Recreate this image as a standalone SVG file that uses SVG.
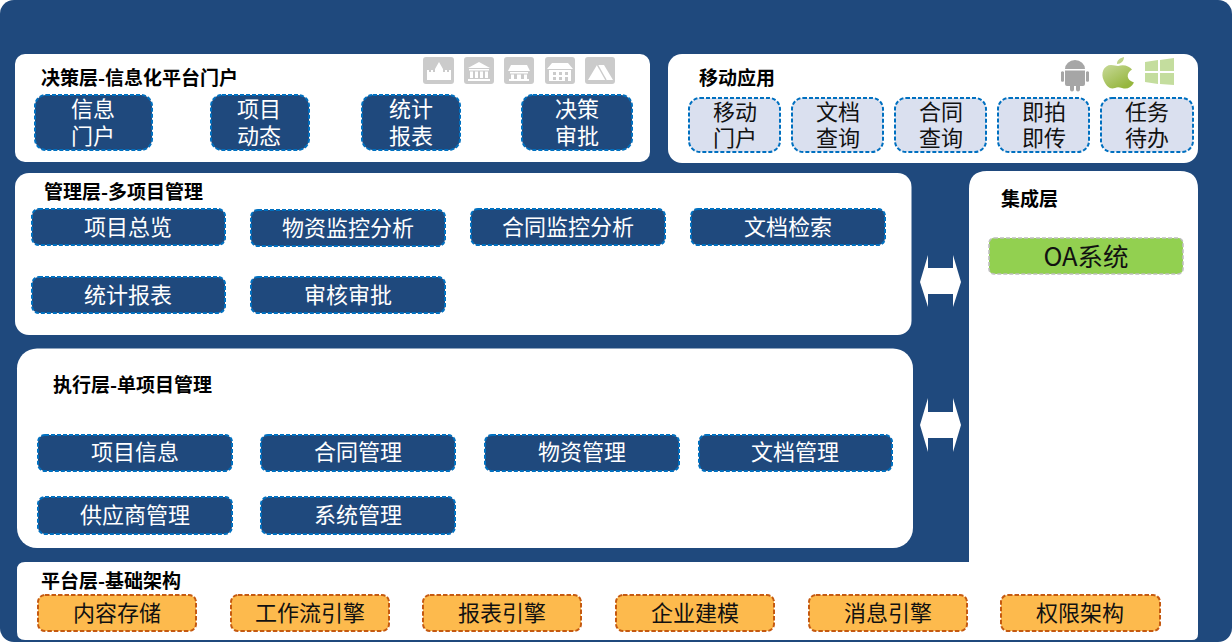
<svg xmlns="http://www.w3.org/2000/svg" width="1232" height="642" viewBox="0 0 1232 642">
<style>
text{font-family:"Noto Sans CJK SC","Noto Sans",sans-serif;text-anchor:middle}
.t{font-size:19px;font-weight:700;fill:#000;text-anchor:start}
.n{font-size:22px;fill:#fff}
.k{font-size:22px;fill:#111}
.oa{font-size:25.500px;fill:#111}
.p{fill:#fff}
.dark{fill:#1f497d;stroke:#0070c0;stroke-width:2;stroke-dasharray:4 2}
.light{fill:#dae0ef;stroke:#0070c0;stroke-width:2;stroke-dasharray:4 2}
.org{fill:#fdba4d;stroke:#c55a11;stroke-width:2;stroke-dasharray:4.500 2}
.grn{fill:#92d050;stroke:#bfbfbf;stroke-width:1.600;stroke-dasharray:4 2}
.ic{fill:#cbcbcb}
.iw{fill:#fff}
</style>
<defs>
<linearGradient id="ap" x1="0" y1="0" x2="0.6" y2="1"><stop offset="0" stop-color="#d3e2ae"/><stop offset="1" stop-color="#96b63e"/></linearGradient>
</defs>
<rect width="1232" height="642" rx="14" fill="#1f497d"/>
<g id="panel-decision"><rect class="p" x="15" y="54" width="635" height="108" rx="10"/><text class="t" x="41" y="84.500">决策层-信息化平台门户</text></g>
<g id="panel-mobile"><rect class="p" x="668" y="54" width="530" height="109" rx="14"/><text class="t" x="699" y="84.500">移动应用</text></g>
<g id="panel-management"><rect class="p" x="15" y="173" width="896.500" height="162" rx="14"/><text class="t" x="44" y="198.500">管理层-多项目管理</text></g>
<g id="panel-execution"><rect class="p" x="17" y="348.500" width="896" height="199.500" rx="20"/><text class="t" x="53" y="392">执行层-单项目管理</text></g>
<g id="panel-integration-platform"><path class="p" d="M25 562H969V189Q969 171 987 171H1180Q1198 171 1198 189V634Q1198 640 1192 640H25Q17 640 17 632V570Q17 562 25 562Z"/><text class="t" x="1001" y="205.500">集成层</text><text class="t" x="41" y="587.500">平台层-基础架构</text></g>

<g id="icons-decision">
<rect class="ic" x="423" y="57" width="31" height="27" rx="3"/><path class="iw" d="M427 80V70H429V72H431V70H433V72H435V69L439 62L443 69V72H445V70H447V72H449V70H451V80Z"/>
<rect class="ic" x="464" y="57" width="30" height="27" rx="3"/><path class="iw" d="M468 68L479 62L490 68ZM469 69H489V70.500H469ZM470 71.500H473V78H470ZM475 71.500H478V78H475ZM480 71.500H483V78H480ZM485 71.500H488V78H485ZM468 79H490V81H468Z"/>
<rect class="ic" x="504" y="57" width="30" height="27" rx="3"/><path class="iw" d="M511 65H527L530 71H508ZM510 72H528V73.500H510ZM511 74.500H514V79H511ZM517 74.500H521V79H517ZM524 74.500H527V79H524ZM509 79H529V81H509Z"/>
<rect class="ic" x="545" y="57" width="30" height="27" rx="3"/><path class="iw" d="M552 63H568L573 69H547ZM549 70H571V81H549Z"/><path class="ic" d="M553 72H556V75H553ZM559 72H562V75H559ZM565 72H568V75H565ZM553 77H556V80H553ZM559 77H562V80H559ZM565 77H568V81H565Z"/>
<rect class="ic" x="585" y="57" width="30" height="27" rx="3"/><path class="iw" d="M597 65H604L613 80H588Z"/><path fill="none" stroke="#cbcbcb" stroke-width="1.500" d="M597.500 65L606 80"/>
</g>
<g id="icons-mobile">
<path fill="#a6a6a6" d="M1065 69A10 9 0 0 1 1085 69ZM1065 70.500H1085V84Q1085 86 1083 86H1080V89.500A2 2 0 0 1 1076 89.500V86H1074V89.500A2 2 0 0 1 1070 89.500V86H1067Q1065 86 1065 84ZM1061 72A2 2 0 0 1 1064 72V81A2 2 0 0 1 1061 81ZM1086 72A2 2 0 0 1 1089 72V81A2 2 0 0 1 1086 81Z"/>
<path fill="url(#ap)" d="M1118 66C1124 64 1129 66 1132 69.500C1126 73 1126 80 1134 82.500C1131 88 1127 89.500 1122 88C1119 87 1117 87 1115 88C1110 89.500 1107 87 1104 81C1100 73 1104 65 1111 65C1114 65 1116 66 1118 66ZM1117 64C1117 60 1120 58 1124 57C1124 61 1121 64 1117 64Z"/>
<path fill="#c4dd9e" d="M1145 62L1158 60V71H1145ZM1160 60L1174 58V71H1160ZM1145 73H1158V84L1145 82ZM1160 73H1174V85L1160 84Z"/>
</g>

<g id="connectors">
<path class="p" d="M920 282L928 255V268H953V255L961 282L953 307V294H928V307Z"/>
<path class="p" d="M920 425L928 398V412H953V398L961 425L953 452V438H928V452Z"/>
</g>

<g id="n1"><rect class="dark" x="35" y="95" width="117" height="55" rx="11"/><text class="n" x="93" y="117">信息</text><text class="n" x="93" y="144">门户</text></g>
<g id="n2"><rect class="dark" x="211" y="95" width="98" height="55" rx="11"/><text class="n" x="259" y="117">项目</text><text class="n" x="259" y="144">动态</text></g>
<g id="n3"><rect class="dark" x="362" y="95" width="98" height="55" rx="11"/><text class="n" x="411" y="117">统计</text><text class="n" x="411" y="144">报表</text></g>
<g id="n4"><rect class="dark" x="522" y="95" width="110" height="55" rx="11"/><text class="n" x="577" y="117">决策</text><text class="n" x="577" y="144">审批</text></g>

<g id="m1"><rect class="light" x="689" y="98" width="91" height="54" rx="11"/><text class="k" x="735" y="120">移动</text><text class="k" x="735" y="146">门户</text></g>
<g id="m2"><rect class="light" x="792" y="98" width="91" height="54" rx="11"/><text class="k" x="838" y="120">文档</text><text class="k" x="838" y="146">查询</text></g>
<g id="m3"><rect class="light" x="895" y="98" width="91" height="54" rx="11"/><text class="k" x="941" y="120">合同</text><text class="k" x="941" y="146">查询</text></g>
<g id="m4"><rect class="light" x="998" y="98" width="91" height="54" rx="11"/><text class="k" x="1044" y="120">即拍</text><text class="k" x="1044" y="146">即传</text></g>
<g id="m5"><rect class="light" x="1101" y="98" width="92" height="54" rx="11"/><text class="k" x="1147" y="120">任务</text><text class="k" x="1147" y="146">待办</text></g>

<g id="g1"><rect class="dark" x="32" y="209" width="193" height="36" rx="7"/><text class="n" x="128" y="235">项目总览</text></g>
<g id="g2"><rect class="dark" x="251" y="210" width="194" height="36" rx="7"/><text class="n" x="348" y="236">物资监控分析</text></g>
<g id="g3"><rect class="dark" x="471" y="209" width="194" height="36" rx="7"/><text class="n" x="568" y="235">合同监控分析</text></g>
<g id="g4"><rect class="dark" x="691" y="209" width="194" height="36" rx="7"/><text class="n" x="788" y="235">文档检索</text></g>
<g id="g5"><rect class="dark" x="32" y="277" width="193" height="36" rx="7"/><text class="n" x="128" y="303">统计报表</text></g>
<g id="g6"><rect class="dark" x="251" y="277" width="194" height="36" rx="7"/><text class="n" x="348" y="303">审核审批</text></g>

<g id="e1"><rect class="dark" x="38" y="435" width="194" height="36" rx="7"/><text class="n" x="135" y="460">项目信息</text></g>
<g id="e2"><rect class="dark" x="261" y="435" width="194" height="36" rx="7"/><text class="n" x="358" y="460">合同管理</text></g>
<g id="e3"><rect class="dark" x="485" y="435" width="194" height="36" rx="7"/><text class="n" x="582" y="460">物资管理</text></g>
<g id="e4"><rect class="dark" x="699" y="435" width="193" height="36" rx="7"/><text class="n" x="795" y="460">文档管理</text></g>
<g id="e5"><rect class="dark" x="38" y="497" width="194" height="37" rx="7"/><text class="n" x="135" y="523">供应商管理</text></g>
<g id="e6"><rect class="dark" x="261" y="497" width="194" height="37" rx="7"/><text class="n" x="358" y="523">系统管理</text></g>

<g id="oa"><rect class="grn" x="989" y="238" width="194" height="36" rx="5"/><text class="oa" x="1086" y="266">OA系统</text></g>

<g id="b1"><rect class="org" x="38" y="595" width="158" height="36" rx="7"/><text class="k" x="117" y="621">内容存储</text></g>
<g id="b2"><rect class="org" x="231" y="595" width="158" height="36" rx="7"/><text class="k" x="310" y="621">工作流引擎</text></g>
<g id="b3"><rect class="org" x="423" y="595" width="158" height="36" rx="7"/><text class="k" x="502" y="621">报表引擎</text></g>
<g id="b4"><rect class="org" x="616" y="595" width="158" height="36" rx="7"/><text class="k" x="695" y="621">企业建模</text></g>
<g id="b5"><rect class="org" x="809" y="595" width="158" height="36" rx="7"/><text class="k" x="888" y="621">消息引擎</text></g>
<g id="b6"><rect class="org" x="1001" y="595" width="159" height="36" rx="7"/><text class="k" x="1080" y="621">权限架构</text></g>
</svg>
